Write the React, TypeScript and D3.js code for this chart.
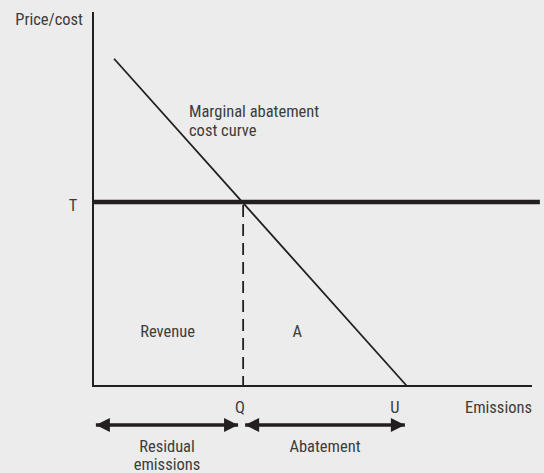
import React, { useEffect, useRef } from 'react';
import * as d3 from 'd3';

// emissions (x) / price (y) in arbitrary chart units
const macCurve = [
  { e: 4.8, p: 87.5 },
  { e: 71.5, p: 0 },
];
const taxLevel = 49.2;
const taxLineEnd = 101.8;
const qPoint = 34.2;
const uPoint = 71.5;
const axisLabels = { y: 'Price/cost', x: 'Emissions', t: 'T', q: 'Q', u: 'U' };
const areaLabels = [
  { text: 'Revenue', e: 17 },
  { text: 'A', e: 46.5 },
];
const spanLabels = [
  { from: 0.2, to: 33.5, lines: ['Residual', 'emissions'] },
  { from: 34.2, to: 71.5, lines: ['Abatement'] },
];

const FONT = '"Roboto Condensed", "Liberation Sans Narrow", "Liberation Sans", Arial, sans-serif';

export default function App() {
  const ref = useRef<SVGSVGElement>(null);

  useEffect(() => {
    if (!ref.current) return;
    const W = 544;
    const H = 473;
    const svg = d3.select(ref.current);
    svg.selectAll('*').remove();

    svg.append('rect').attr('width', W).attr('height', H).attr('fill', '#ececec');

    const x = d3.scaleLinear().domain([0, 100]).range([93, 532]);
    const y = d3.scaleLinear().domain([0, 100]).range([386, 12]);

    const ink = '#231f20';

    svg
      .append('defs')
      .append('marker')
      .attr('id', 'head')
      .attr('viewBox', '0 0 10 10')
      .attr('refX', 10)
      .attr('refY', 5)
      .attr('markerUnits', 'userSpaceOnUse')
      .attr('markerWidth', 19)
      .attr('markerHeight', 14)
      .attr('orient', 'auto-start-reverse')
      .append('path')
      .attr('d', 'M0,0L10,5L0,10Z')
      .attr('fill', ink);

    // axes
    svg
      .append('line')
      .attr('x1', x(0)).attr('x2', x(0))
      .attr('y1', y(100)).attr('y2', y(0))
      .attr('stroke', ink).attr('stroke-width', 2);
    svg
      .append('line')
      .attr('x1', x(0) - 1).attr('x2', x(100))
      .attr('y1', y(0)).attr('y2', y(0))
      .attr('stroke', ink).attr('stroke-width', 2);

    // tax line
    svg
      .append('line')
      .attr('x1', x(0)).attr('x2', x(taxLineEnd))
      .attr('y1', y(taxLevel)).attr('y2', y(taxLevel))
      .attr('stroke', ink).attr('stroke-width', 4.5);

    // MAC curve
    const line = d3
      .line<{ e: number; p: number }>()
      .x((d) => x(d.e))
      .y((d) => y(d.p));
    svg
      .append('path')
      .attr('d', line(macCurve))
      .attr('fill', 'none')
      .attr('stroke', ink)
      .attr('stroke-width', 1.8);

    // Q dashed
    svg
      .append('line')
      .attr('x1', x(qPoint)).attr('x2', x(qPoint))
      .attr('y1', y(taxLevel) + 3).attr('y2', y(0))
      .attr('stroke', ink).attr('stroke-width', 1.8)
      .attr('stroke-dasharray', '12,7');

    const text = (t: string, px: number, py: number, anchor = 'middle') =>
      svg
        .append('text')
        .attr('x', px)
        .attr('y', py)
        .attr('text-anchor', anchor)
        .attr('font-family', FONT)
        .attr('font-size', 16.5)
        .attr('fill', '#3c3c3c')
        .text(t);

    text(axisLabels.y, 83, 25, 'end');
    text(axisLabels.t, 73, 211);
    text('Marginal abatement', 189, 117, 'start');
    text('cost curve', 189, 136, 'start');
    areaLabels.forEach((a) => text(a.text, x(a.e), 337));
    text(axisLabels.q, 240, 413);
    text(axisLabels.u, 395, 413);
    text(axisLabels.x, 532, 413, 'end');

    // span arrows
    spanLabels.forEach((s) => {
      svg
        .append('line')
        .attr('x1', x(s.from) + 2).attr('x2', x(s.to) - 2)
        .attr('y1', 425).attr('y2', 425)
        .attr('stroke', ink).attr('stroke-width', 3.5)
        .attr('marker-start', 'url(#head)')
        .attr('marker-end', 'url(#head)');
      const cx = (x(s.from) + x(s.to)) / 2;
      s.lines.forEach((l, i) => text(l, cx, 452 + i * 18));
    });
  }, []);

  return (
    <svg
      ref={ref}
      width={544}
      height={473}
      style={{ position: 'absolute', left: 0, top: 0, display: 'block' }}
    />
  );
}
